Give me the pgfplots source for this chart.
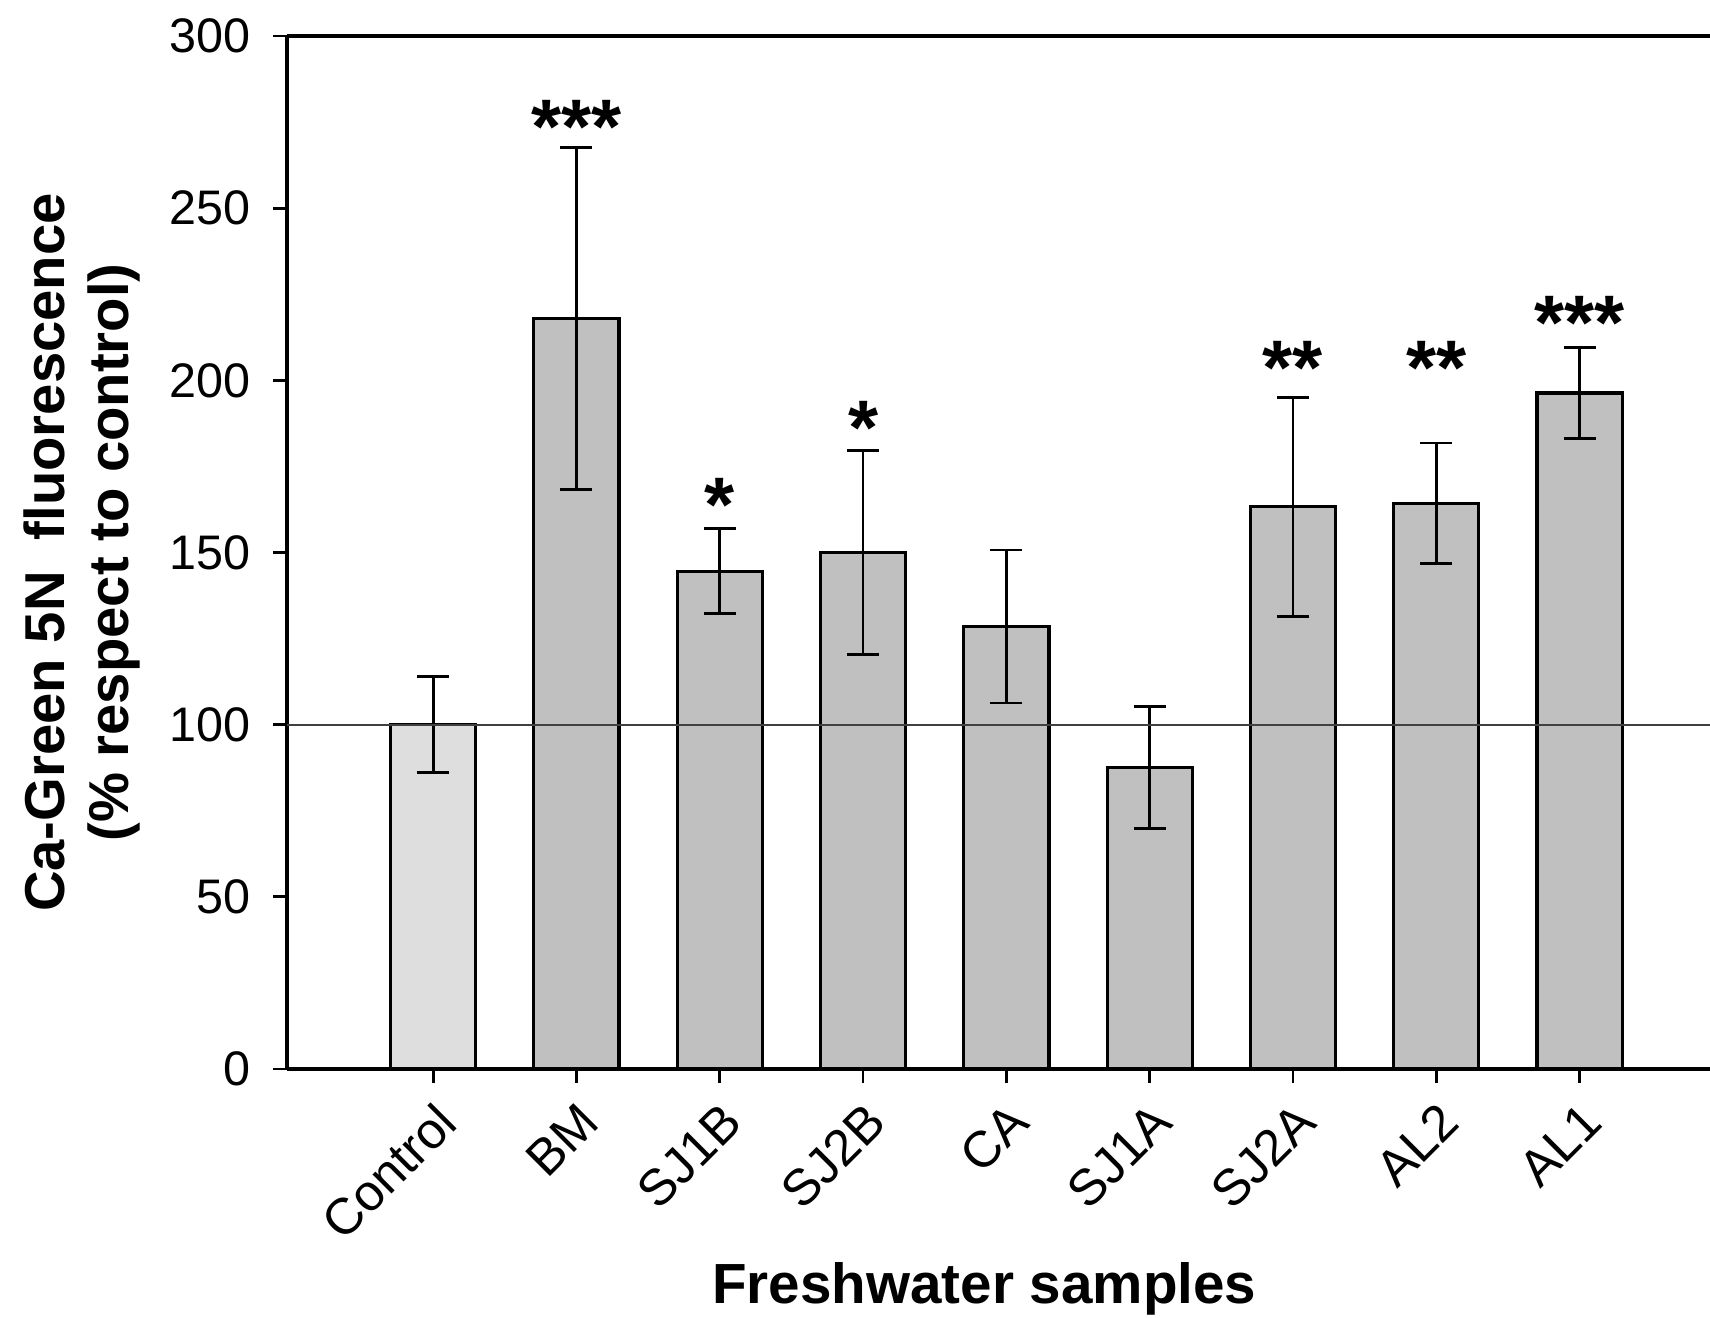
\documentclass[border=0pt]{standalone}
\usepackage{fontspec}
\setmainfont{Liberation Sans}
\usepackage{pgfplots}
\pgfplotsset{compat=1.18}
\definecolor{ctrlgray}{RGB}{222,222,222}
\definecolor{bargray}{RGB}{192,192,192}

\pgfplotstableread{
x y e
1 218 49.6
2 144.6 12.3
3 150 29.6
4 128.5 22.2
5 87.5 17.7
6 163.3 31.8
7 164.3 17.5
8 196.3 13.2
}\samples

\begin{document}
\begin{tikzpicture}
\begin{axis}[
  at={(0,0)}, anchor=south west,
  scale only axis,
  width=14.23cm, height=10.33cm,
  xmin=-1.02, xmax=8.91,
  ymin=0, ymax=300,
  axis x line=box, axis y line=left,
  axis line style={-, line width=1pt, black},
  xtick={0,...,8},
  xticklabels={Control,BM,SJ1B,SJ2B,CA,SJ1A,SJ2A,AL2,AL1},
  ytick={0,50,...,300},
  xtick pos=bottom,
  tick align=outside,
  major tick length=0.14cm,
  tick style={black, line width=0.8pt},
  /pgf/number format/assume math mode=true,
  yticklabel style={font=\fontsize{13.8}{15}\selectfont, xshift=-0.1cm},
  xticklabel style={font=\fontsize{14.5}{16}\selectfont, rotate=45, anchor=north east},
  xlabel={Freshwater samples},
  xlabel style={font=\fontsize{16.1}{18}\selectfont\bfseries,
    at={(axis description cs:0.49,0)}, anchor=base, yshift=-2.34cm},
  ylabel={Ca-Green 5N\ \ fluorescence\\(\% respect to control)},
  ylabel style={font=\fontsize{16}{18}\selectfont\bfseries, align=center,
    at={(axis description cs:-0.103,0.5)}, anchor=south, inner sep=0pt},
  clip=false,
]

% control bar
\addplot[ybar, bar shift=0pt, bar width=0.594, fill=ctrlgray, draw=black, line width=0.9pt,
  error bars/.cd, y dir=both, y explicit, error mark=|,
  error bar style={line width=0.8pt, black},
  error mark options={black, mark size=0.16cm, line width=0.8pt}]
  coordinates {(0,100) +- (0,14)};

% freshwater samples
\addplot[ybar, bar shift=0pt, bar width=0.594, fill=bargray, draw=black, line width=0.9pt,
  error bars/.cd, y dir=both, y explicit, error mark=|,
  error bar style={line width=0.8pt, black},
  error mark options={black, mark size=0.16cm, line width=0.8pt}]
  table[x=x, y=y, y error=e] {\samples};

% reference line at 100 %
\addplot[no marks, line width=0.6pt, black!75] coordinates {(-1.02,100) (8.91,100)};

% significance marks
\begin{scope}[every node/.style={font=\fontsize{22}{22}\selectfont\bfseries, anchor=base, inner sep=0pt}]
\node at (axis cs:1,266) {***};
\node at (axis cs:2,156) {*};
\node at (axis cs:3,178.5) {*};
\node at (axis cs:6,196) {**};
\node at (axis cs:7,196) {**};
\node at (axis cs:8,209) {***};
\end{scope}

\end{axis}
\pgfresetboundingbox
\path[use as bounding box] (-2.87cm,-2.48cm) rectangle (14.23cm,10.69cm);
\end{tikzpicture}
\end{document}
